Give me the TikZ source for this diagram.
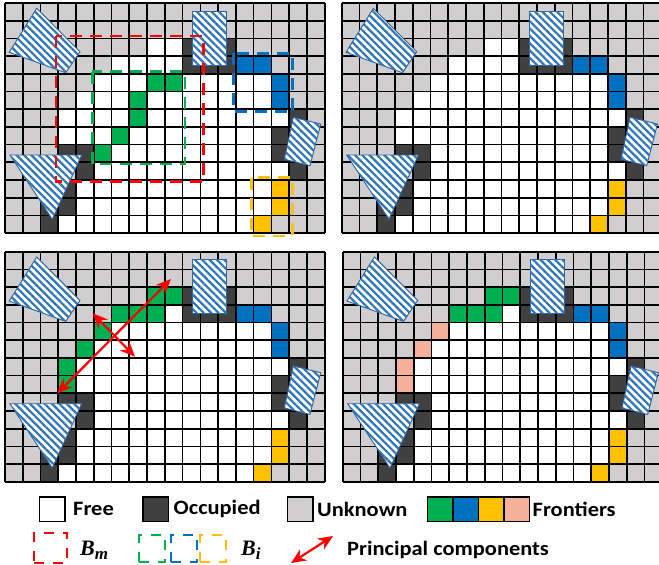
\documentclass[tikz,border=0pt]{standalone}
\usepackage{fontspec}
\setmainfont[FakeStretch=1.1]{Carlito}
\newfontfamily\mathlab{Liberation Serif}
\usetikzlibrary{arrows.meta, positioning, patterns.meta}

\definecolor{cfree}{HTML}{FFFFFF}
\definecolor{coccupied}{HTML}{404040}
\definecolor{cunknown}{HTML}{D0CECE}
\definecolor{cgreen}{HTML}{00B050}
\definecolor{cblue}{HTML}{0070C0}
\definecolor{cyellow}{HTML}{FFC000}
\definecolor{csalmon}{HTML}{F4B09A}
\definecolor{cred}{HTML}{FF0000}
\definecolor{cedge}{HTML}{2F5F9E}
\definecolor{cstripe}{HTML}{2E75B6}

\def\cw{17.76}
\def\ch{17.7}

% one span of cells in a row
\newcommand{\cellspan}[4]{\fill[#1] ({#3*\cw},{#2*\ch}) rectangle ({(#4+1)*\cw},{(#2+1)*\ch});}
\newcommand{\lowlab}[1]{\raisebox{-4pt}{\fontsize{17}{17}\selectfont #1}}

% map shared by the four panels
\newcommand{\basemap}{
  \fill[cunknown] (0,0) rectangle ({18*\cw},{13*\ch});
  \foreach \r/\a/\b in {2/8/9, 3/6/9, 4/5/14, 5/4/14, 6/3/15, 7/3/14, 8/5/14, 9/5/15, 10/4/14, 11/4/14, 12/3/13}
    {\cellspan{cfree}{\r}{\a}{\b}}
  \foreach \r/\a/\b in {2/10/12, 3/10/12, 6/16/16, 7/15/15, 8/15/15, 9/16/16, 8/3/4, 9/4/4, 10/3/3, 11/2/3, 12/2/2}
    {\cellspan{coccupied}{\r}{\a}{\b}}
  \foreach \r/\a/\b in {3/13/14, 4/15/15, 5/15/15}
    {\cellspan{cblue}{\r}{\a}{\b}}
  \foreach \r/\a/\b in {10/15/15, 11/15/15, 12/14/14}
    {\cellspan{cyellow}{\r}{\a}{\b}}
}

% grid lines and the obstacles on top
\newcommand{\mapover}{
  \foreach \c in {0,...,18} {\draw[gridline] ({\c*\cw},0) -- ({\c*\cw},{13*\ch});}
  \foreach \r in {0,...,13} {\draw[gridline] (0,{\r*\ch}) -- ({18*\cw},{\r*\ch});}
  \draw[obstacle] (31.7,5.3) -- (75,48.7) -- (60.7,69.7) -- (4.3,49.3) -- cycle;
  \draw[obstacle] (187.3,8) rectangle (221.7,62);
  \draw[obstacle] (288.3,114.3) -- (315.7,121) -- (305,162.7) -- (279.3,156.3) -- cycle;
  \draw[obstacle] (5,152) -- (76.7,152) -- (47.3,216.3) -- cycle;
}

\begin{document}
\begin{tikzpicture}[
    x=1pt, y=-1pt,
    gridline/.style={black, line width=1.7pt},
    obstacle/.style={draw=cedge, line width=0.9pt, fill=white, postaction={pattern={Lines[angle=-45, distance=5.2pt, line width=2.2pt]}, pattern color=cstripe}},
    legbox/.style={rectangle, draw=black, line width=1.5pt, outer sep=0pt, minimum width=25.5pt, minimum height=24.5pt, inner sep=0pt},
    legdash/.style={rectangle, dash pattern=on 10pt off 9pt, line width=2.4pt, inner sep=0pt},
    legtext/.style={font=\fontsize{20.4}{22}\selectfont\bfseries, inner sep=0pt},
    lablab/.style={font=\fontsize{22}{24}\selectfont\mathlab\bfseries\itshape, inner sep=0pt},
    regionbox/.style={dash pattern=on 12pt off 8pt, line width=2.7pt},
    axisarrow/.style={{Stealth[length=15pt, width=13pt]}-{Stealth[length=15pt, width=13pt]}, line width=2.2pt, cred}
]
\clip (0,0) rectangle (659,565);

% top left, with the search boxes
\begin{scope}[shift={(5,3)}]
  \basemap
  \foreach \r/\a/\b in {4/8/9, 5/7/7, 6/7/7, 7/6/6, 8/5/5}
    {\cellspan{cgreen}{\r}{\a}{\b}}
  \mapover
  \draw[regionbox, cred] (51,33) rectangle (198.3,178.7);
  \draw[regionbox, cgreen] (87.3,68.7) rectangle (180,161);
  \draw[regionbox, cblue] (228.3,50.3) rectangle (287.7,108.7);
  \draw[regionbox, cyellow] (246.7,174.7) rectangle (287.7,233);
\end{scope}

% top right
\begin{scope}[shift={(341.7,3)}]
  \basemap
  \mapover
\end{scope}

% bottom left, with the principal components
\begin{scope}[shift={(5,251.7)}]
  \basemap
  \foreach \r/\a/\b in {2/8/9, 3/6/8, 4/5/5, 5/4/4, 6/3/3, 7/3/3}
    {\cellspan{cgreen}{\r}{\a}{\b}}
  \mapover
  \coordinate (longa) at (52.3,141.6);
  \coordinate (longb) at (166,27.3);
  \coordinate (shorta) at (87.7,61.6);
  \coordinate (shortb) at (130,105);
  \draw[axisarrow] (longa) -- (longb);
  \draw[axisarrow] (shorta) -- (shortb);
\end{scope}

% bottom right
\begin{scope}[shift={(342.7,251.7)}]
  \basemap
  \foreach \r/\a/\b in {2/8/9, 3/6/8}
    {\cellspan{cgreen}{\r}{\a}{\b}}
  \foreach \r/\a/\b in {4/5/5, 5/4/4, 6/3/3, 7/3/3}
    {\cellspan{csalmon}{\r}{\a}{\b}}
  \mapover
\end{scope}

% legend
\node[legbox, fill=cfree] (free) at (52,509) {};
\node[legtext, anchor=west] (freetxt) at (73,509) {Free};
\node[legbox, fill=coccupied] (occ) at (155.5,509) {};
\node[legtext, anchor=west] (occtxt) at (173.5,509) {Occupied};
\node[legbox, fill=cunknown] (unk) at (300,509) {};
\node[legtext, anchor=west] (unktxt) at (317,509) {Unknown};
\node[legbox, fill=cgreen] (fa) at (440,509) {};
\node[legbox, fill=cblue, right=0pt of fa] (fb) {};
\node[legbox, fill=cyellow, right=0pt of fb] (fc) {};
\node[legbox, fill=csalmon, right=0pt of fc] (fd) {};
\node[legtext, anchor=west] (fronttxt) at (532.5,509) {Frontiers};

\node[legdash, draw=cred, minimum width=33pt, minimum height=30pt] (bm) at (50.5,548) {};
\node[lablab, anchor=west] (bmtxt) at (80,550) {B\lowlab{m}};
\node[legdash, draw=cgreen, minimum width=26pt, minimum height=26.5pt] (bg) at (152,548.5) {};
\node[legdash, draw=cblue, minimum width=26pt, minimum height=26.5pt] (bb) at (184,548.5) {};
\node[legdash, draw=cyellow, minimum width=26pt, minimum height=26.5pt] (by) at (213,548.5) {};
\node[lablab, anchor=west] (bitxt) at (241,550) {B\lowlab{i}};
\coordinate (pca) at (291,563);
\coordinate (pcb) at (333,536);
\draw[axisarrow] (pca) -- (pcb);
\node[legtext, anchor=west] (pctxt) at (347,550) {Principal components};
\end{tikzpicture}
\end{document}
